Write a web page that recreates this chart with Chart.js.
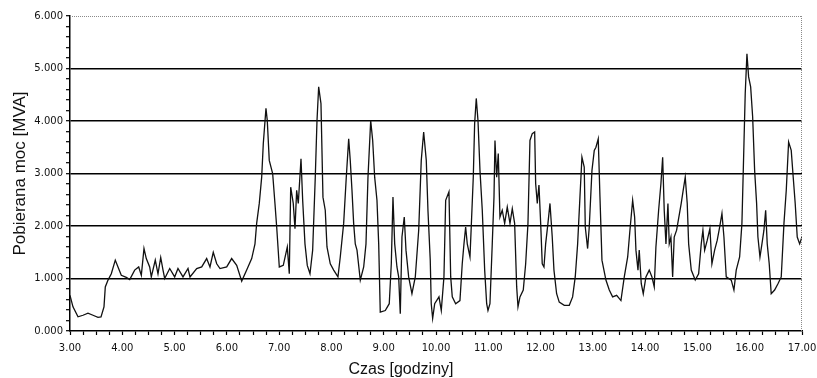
<!DOCTYPE html>
<html>
<head>
<meta charset="utf-8">
<script src="https://cdn.jsdelivr.net/npm/chart.js@4/dist/chart.umd.min.js"></script>
<style>
html,body{margin:0;padding:0;background:#fff;}
#wrap{width:817px;height:378px;position:relative;}
</style>
</head>
<body>
<div id="wrap"><canvas id="c" width="817" height="378"></canvas></div>
<script>
// Time of day in hours
const hours = [3.000,3.057,3.153,3.249,3.344,3.440,3.535,3.593,3.650,3.675,3.727,3.790,3.866,3.918,3.981,4.077,4.142,4.237,4.314,4.364,4.415,4.459,4.524,4.555,4.631,4.683,4.735,4.779,4.811,4.907,5.002,5.065,5.161,5.257,5.295,5.423,5.519,5.614,5.677,5.740,5.806,5.869,5.997,6.092,6.188,6.284,6.379,6.475,6.538,6.570,6.620,6.666,6.697,6.748,6.773,6.811,6.876,6.920,6.953,7.003,7.079,7.156,7.194,7.221,7.270,7.303,7.335,7.366,7.418,7.450,7.494,7.538,7.590,7.641,7.691,7.724,7.756,7.800,7.838,7.882,7.915,7.978,8.043,8.125,8.169,8.234,8.284,8.330,8.360,8.393,8.425,8.456,8.489,8.552,8.617,8.661,8.699,8.751,8.789,8.827,8.871,8.904,8.934,9.030,9.106,9.145,9.177,9.210,9.253,9.286,9.317,9.349,9.393,9.426,9.477,9.540,9.604,9.669,9.718,9.764,9.814,9.846,9.890,9.909,9.936,9.975,10.057,10.101,10.152,10.185,10.248,10.281,10.311,10.376,10.458,10.502,10.535,10.567,10.598,10.650,10.674,10.713,10.739,10.770,10.803,10.841,10.885,10.931,10.969,10.994,11.032,11.076,11.109,11.128,11.160,11.191,11.223,11.267,11.313,11.363,11.415,11.459,11.504,11.543,11.568,11.606,11.669,11.715,11.759,11.797,11.841,11.887,11.906,11.937,11.969,12.002,12.032,12.065,12.097,12.141,12.180,12.223,12.256,12.307,12.357,12.453,12.549,12.613,12.663,12.709,12.753,12.791,12.835,12.855,12.900,12.931,12.983,13.027,13.059,13.103,13.136,13.174,13.250,13.314,13.378,13.455,13.537,13.601,13.666,13.709,13.761,13.799,13.824,13.863,13.887,13.926,13.964,14.015,14.078,14.130,14.174,14.206,14.258,14.302,14.335,14.365,14.398,14.436,14.461,14.493,14.526,14.556,14.602,14.690,14.723,14.767,14.805,14.832,14.882,14.958,15.023,15.073,15.105,15.138,15.188,15.239,15.277,15.329,15.379,15.425,15.469,15.507,15.551,15.647,15.698,15.742,15.807,15.851,15.890,15.914,15.947,15.979,16.018,16.056,16.094,16.132,16.157,16.196,16.234,16.272,16.305,16.335,16.373,16.411,16.476,16.540,16.603,16.655,16.699,16.744,16.794,16.832,16.870,16.909,16.955,17.000];

// Power drawn [MVA]
const power = [0.68,0.46,0.27,0.30,0.34,0.30,0.26,0.27,0.46,0.84,0.97,1.09,1.35,1.22,1.06,1.02,0.98,1.16,1.22,1.06,1.57,1.38,1.22,1.03,1.35,1.09,1.40,1.16,1.00,1.19,1.03,1.19,1.03,1.19,1.03,1.19,1.22,1.38,1.22,1.50,1.28,1.19,1.22,1.38,1.25,0.95,1.16,1.38,1.66,2.05,2.43,2.93,3.57,4.24,4.01,3.25,3.00,2.43,1.98,1.22,1.25,1.60,1.09,2.74,2.43,1.95,2.68,2.43,3.28,2.49,1.66,1.25,1.09,1.54,2.93,4.01,4.65,4.33,2.55,2.30,1.60,1.28,1.16,1.03,1.41,2.05,2.93,3.66,3.25,2.68,2.05,1.66,1.54,0.97,1.22,1.66,2.93,4.01,3.63,2.93,2.49,1.66,0.36,0.39,0.52,1.28,2.55,1.66,1.22,1.03,0.33,1.79,2.17,1.54,1.03,0.71,1.03,1.92,3.25,3.79,3.25,2.30,1.35,0.52,0.24,0.52,0.65,0.39,1.03,2.49,2.65,1.03,0.65,0.52,0.58,1.28,1.66,1.98,1.66,1.41,1.98,2.93,3.95,4.43,4.01,3.06,2.30,1.16,0.52,0.39,0.52,1.66,2.55,3.63,2.93,3.38,2.17,2.30,2.05,2.36,2.05,2.33,2.05,0.84,0.46,0.65,0.78,1.28,2.05,3.63,3.76,3.79,2.81,2.43,2.78,2.05,1.28,1.22,1.66,2.05,2.43,1.79,1.16,0.71,0.55,0.49,0.49,0.65,1.03,1.66,2.55,3.31,3.12,1.98,1.57,1.98,3.06,3.44,3.50,3.66,2.55,1.35,0.97,0.78,0.65,0.68,0.58,1.03,1.41,1.92,2.49,2.17,1.54,1.16,1.54,0.90,0.71,1.03,1.16,1.03,0.84,1.60,2.30,2.81,3.31,2.30,1.66,2.43,1.66,1.79,1.03,1.79,1.92,2.43,2.65,2.93,2.43,1.66,1.16,0.97,1.09,1.66,1.92,1.54,1.73,1.95,1.28,1.54,1.73,1.98,2.24,1.79,1.03,0.97,0.78,1.16,1.41,2.05,3.57,4.52,5.28,4.84,4.65,4.08,3.06,2.43,1.79,1.41,1.66,1.92,2.30,1.66,1.28,0.71,0.78,0.90,1.03,2.05,2.68,3.60,3.44,2.93,2.43,1.79,1.66,1.79];

const xMin = 3, xMax = 17, xStep = 0.25;
const yMin = 0, yMax = 6, yStep = 0.2;
const xTitle = 'Czas [godziny]';
const yTitle = 'Pobierana moc [MVA]';

const isInt = v => Math.abs(v - Math.round(v)) < 1e-6;

const frame = {
  id: 'frame',
  afterDraw(chart) {
    const {ctx, chartArea: a} = chart;
    ctx.save();
    ctx.strokeStyle = '#8a8a8a';
    ctx.lineWidth = 1;
    ctx.setLineDash([1, 1]);
    ctx.beginPath();
    ctx.moveTo(a.left, a.top + 0.5);
    ctx.lineTo(a.right, a.top + 0.5);
    ctx.moveTo(a.right - 0.5, a.top);
    ctx.lineTo(a.right - 0.5, a.bottom);
    ctx.stroke();
    ctx.restore();
  }
};

new Chart(document.getElementById('c'), {
  type: 'line',
  data: {
    datasets: [{
      data: hours.map((h, i) => ({x: h, y: power[i]})),
      borderColor: '#111',
      borderWidth: 1.3,
      pointRadius: 0,
      tension: 0,
      fill: false
    }]
  },
  options: {
    responsive: false,
    animation: false,
    events: [],
    layout: {padding: {top: 16, right: 15, bottom: 0, left: 0}},
    plugins: {
      legend: {display: false},
      tooltip: {enabled: false},
      title: {
        display: true,
        position: 'bottom',
        text: xTitle,
        color: '#111',
        font: {family: '"Liberation Sans", Arial, sans-serif', size: 16, weight: 'normal', lineHeight: 1},
        padding: {top: 0, bottom: 0}
      }
    },
    scales: {
      x: {
        type: 'linear',
        min: xMin, max: xMax,
        afterFit(s) { s.height = 31; s.paddingLeft = 0; s.paddingRight = 0; },
        ticks: {
          stepSize: xStep,
          autoSkip: false,
          maxRotation: 0,
          padding: 7,
          color: '#111',
          font: {family: '"DejaVu Sans", Verdana, sans-serif', size: 10},
          callback: v => isInt(v) ? v.toFixed(2) : ''
        },
        grid: {
          drawOnChartArea: false,
          drawTicks: true,
          tickLength: 4,
          tickColor: '#000',
          tickWidth: 1.2
        },
        border: {display: true, color: '#000', width: 1.5}
      },
      y: {
        min: yMin, max: yMax,
        afterFit(s) { s.width = 70; },
        ticks: {
          stepSize: yStep,
          autoSkip: false,
          padding: 3,
          color: '#111',
          font: {family: '"DejaVu Sans", Verdana, sans-serif', size: 10},
          callback: v => isInt(v) ? v.toFixed(3) : ''
        },
        grid: {
          color: ctx => (isInt(ctx.tick.value) && ctx.tick.value > 0.5 && ctx.tick.value < 5.5) ? '#000' : 'rgba(0,0,0,0)',
          lineWidth: 1.4,
          drawTicks: true,
          tickLength: 4,
          tickColor: '#000',
          tickWidth: 1.2
        },
        border: {display: true, color: '#000', width: 1.5},
        title: {
          display: true,
          text: yTitle,
          color: '#111',
          font: {family: '"Liberation Sans", Arial, sans-serif', size: 17, weight: 'normal', lineHeight: 1.2},
          padding: {top: 10, bottom: 0}
        }
      }
    }
  },
  plugins: [frame]
});
</script>
</body>
</html>
